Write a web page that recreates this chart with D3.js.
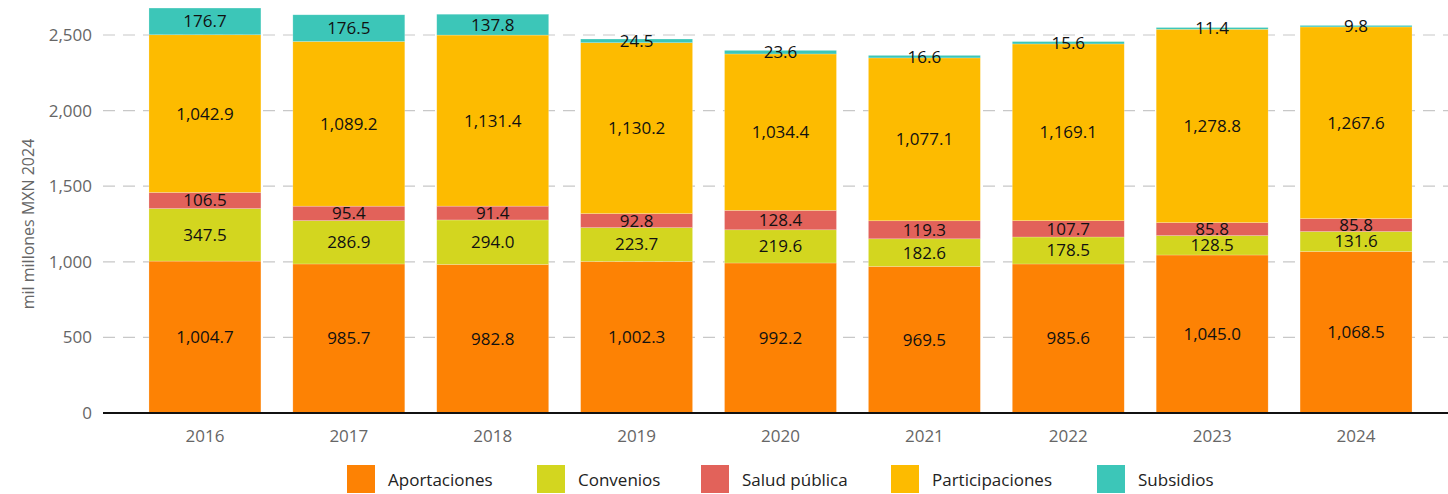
<!DOCTYPE html>
<html>
<head>
<meta charset="utf-8">
<script src="https://cdn.jsdelivr.net/npm/d3@7"></script>
<style>
  body { margin: 0; background: #fff; }
  svg { display: block; font-family: "Open Sans", "Noto Sans", sans-serif; }
</style>
</head>
<body>
<div id="chart"></div>
<script>
const years = ['2016', '2017', '2018', '2019', '2020', '2021', '2022', '2023', '2024'];
const seriesNames = ['Aportaciones', 'Convenios', 'Salud pública', 'Participaciones', 'Subsidios'];
const aportaciones = [1004.7, 985.7, 982.8, 1002.3, 992.2, 969.5, 985.6, 1045.0, 1068.5];
const convenios = [347.5, 286.9, 294.0, 223.7, 219.6, 182.6, 178.5, 128.5, 131.6];
const saludPublica = [106.5, 95.4, 91.4, 92.8, 128.4, 119.3, 107.7, 85.8, 85.8];
const participaciones = [1042.9, 1089.2, 1131.4, 1130.2, 1034.4, 1077.1, 1169.1, 1278.8, 1267.6];
const subsidios = [176.7, 176.5, 137.8, 24.5, 23.6, 16.6, 15.6, 11.4, 9.8];
const yTicks = [0, 500, 1000, 1500, 2000, 2500];
const colors = ['#fd8204', '#d3d61f', '#e2625a', '#fdbb00', '#3cc6b8'];

const width = 1448, height = 494;
const svg = d3.select('#chart').append('svg')
  .attr('width', width).attr('height', height);

// build table for stacking
const table = years.map((y, i) => ({
  year: y,
  'Aportaciones': aportaciones[i],
  'Convenios': convenios[i],
  'Salud pública': saludPublica[i],
  'Participaciones': participaciones[i],
  'Subsidios': subsidios[i]
}));
const stacked = d3.stack().keys(seriesNames)(table);

const x = d3.scaleBand().domain(years).range([133, 1428])
  .paddingInner(0.222).paddingOuter(0.111);
const y = d3.scaleLinear().domain([0, 2500]).range([413, 35]);

// grid
svg.append('g').selectAll('line')
  .data(yTicks.filter(d => d > 0))
  .join('line')
  .attr('x1', 103).attr('x2', width)
  .attr('y1', d => y(d)).attr('y2', d => y(d))
  .attr('stroke', '#c8c8c8')
  .attr('stroke-width', 1.2)
  .attr('stroke-dasharray', '12,8');

// y tick labels
svg.append('g').selectAll('text')
  .data(yTicks)
  .join('text')
  .attr('x', 92).attr('y', d => y(d))
  .attr('dy', '0.35em')
  .attr('text-anchor', 'end')
  .attr('fill', '#666')
  .style('font-size', '17px')
  .text(d => d3.format(',')(d));

// y title
svg.append('text')
  .attr('transform', `translate(34, ${y(1250)}) rotate(-90)`)
  .attr('text-anchor', 'middle')
  .attr('fill', '#666')
  .style('font-size', '16px')
  .text('mil millones MXN 2024');

// bars
const layers = svg.append('g').selectAll('g')
  .data(stacked)
  .join('g')
  .attr('fill', (d, i) => colors[i]);

layers.selectAll('rect')
  .data(d => d)
  .join('rect')
  .attr('x', d => x(d.data.year))
  .attr('width', x.bandwidth())
  .attr('y', d => y(d[1]))
  .attr('height', d => y(d[0]) - y(d[1]))
  .attr('stroke', '#fff')
  .attr('stroke-opacity', 0.35)
  .attr('stroke-width', 0.6);

// value labels
const fmt = d3.format(',.1f');
layers.selectAll('text')
  .data(d => d)
  .join('text')
  .attr('x', d => x(d.data.year) + x.bandwidth() / 2)
  .attr('y', d => y((d[0] + d[1]) / 2))
  .attr('dy', '0.35em')
  .attr('text-anchor', 'middle')
  .attr('fill', '#111')
  .style('font-size', '17px')
  .text(d => fmt(d[1] - d[0]));

// x axis line
svg.append('line')
  .attr('x1', 103).attr('x2', width)
  .attr('y1', y(0)).attr('y2', y(0))
  .attr('stroke', '#111').attr('stroke-width', 2);

// x labels
svg.append('g').selectAll('text')
  .data(years)
  .join('text')
  .attr('x', d => x(d) + x.bandwidth() / 2)
  .attr('y', 436)
  .attr('dy', '0.35em')
  .attr('text-anchor', 'middle')
  .attr('fill', '#666')
  .style('font-size', '17px')
  .text(d => d);

// legend
const legendX = [347, 537, 701, 891, 1097];
const legend = svg.append('g').selectAll('g')
  .data(seriesNames)
  .join('g')
  .attr('transform', (d, i) => `translate(${legendX[i]}, 465)`);
legend.append('rect')
  .attr('width', 28).attr('height', 28)
  .attr('fill', (d, i) => colors[i]);
legend.append('text')
  .attr('x', 41).attr('y', 15)
  .attr('dy', '0.35em')
  .attr('fill', '#222')
  .style('font-size', '17px')
  .text(d => d);
</script>
</body>
</html>
